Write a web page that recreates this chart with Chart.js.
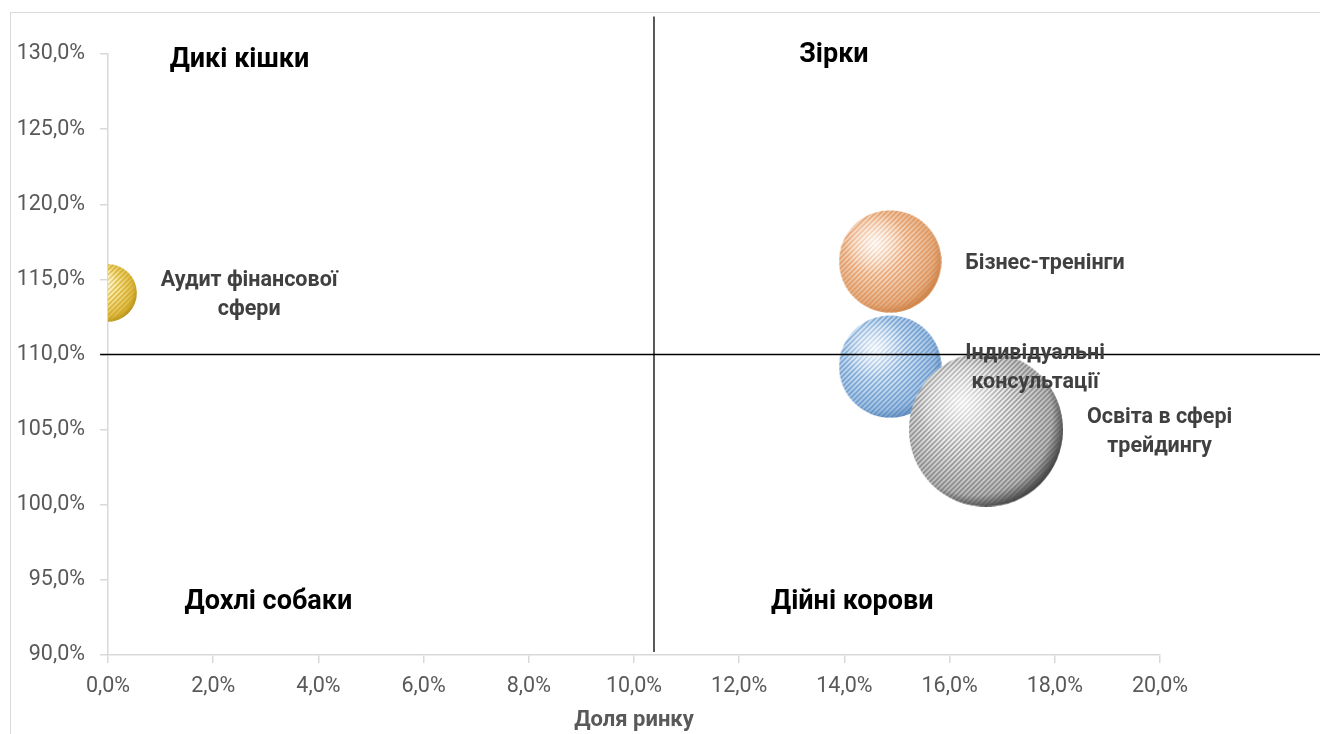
<!DOCTYPE html>
<html>
<head>
<meta charset="utf-8">
<script src="https://cdn.jsdelivr.net/npm/chart.js@4.4.0/dist/chart.umd.min.js"></script>
<style>
  html, body { margin: 0; padding: 0; background: #fff; overflow: hidden; }
  #frame { position: absolute; left: 10px; top: 12px; width: 1330px; height: 740px; border: 1px solid #d9d9d9; }
  #wrap { position: absolute; left: 0; top: 0; width: 1320px; height: 734px; }
</style>
</head>
<body>
<div id="frame"></div>
<div id="wrap"><canvas id="bcgChart" width="1320" height="734"></canvas></div>
<script>
// products (bubbles)
const products = ['Аудит фінансової сфери', 'Бізнес-тренінги', 'Індивідуальні консультації', 'Освіта в сфері трейдингу'];
const labelLines = [['Аудит фінансової', 'сфери'], ['Бізнес-тренінги'], ['Індивідуальні', 'консультації'], ['Освіта в сфері', 'трейдингу']];
const marketShare = [0.0, 14.87, 14.87, 16.69];      // % , x
const marketGrowth = [114.1, 116.2, 109.2, 105.0];    // % , y
const bubbleSize = [14, 44, 44, 100];                 // relative volume

// quadrant captions
const quadrantNames = ['Дикі кішки', 'Зірки', 'Дохлі собаки', 'Дійні корови'];
const quadrantShare = [2.5, 13.8, 3.05, 14.15];
const quadrantGrowth = [129.6, 129.9, 93.5, 93.5];

// dividing lines of the matrix
const dividerShare = 10.38;
const dividerGrowth = 110;
const verticalLine = [{x: dividerShare, y: 90.2}, {x: dividerShare, y: 132.5}];
const horizontalLine = [{x: -0.15, y: dividerGrowth}, {x: 23.1, y: dividerGrowth}];

const maxRadius = 77;
const radii = bubbleSize.map(s => maxRadius * Math.sqrt(s / Math.max(...bubbleSize)));

const sphereColors = [
  {light: '#fffdea', base: '#f7e89e', dark: '#dcbc48', rim: '#a8850e', stripe: 'rgba(210,160,20,0.7)'},
  {light: '#fffaf5', base: '#f6dcc6', dark: '#e2b38c', rim: '#c27a40', stripe: 'rgba(225,125,55,0.7)'},
  {light: '#f6fbff', base: '#d6e7f5', dark: '#a6c4e2', rim: '#6088b4', stripe: 'rgba(60,120,190,0.65)'},
  {light: '#ffffff', base: '#efefef', dark: '#bdbdbd', rim: '#222222', stripe: 'rgba(80,80,80,0.6)'}
];

function makeSphere(r, c) {
  const d = Math.ceil(r * 2);
  const cv = document.createElement('canvas');
  cv.width = d; cv.height = d;
  const g = cv.getContext('2d');
  const m = d / 2;
  g.beginPath(); g.arc(m, m, r, 0, Math.PI * 2); g.clip();
  const hx = m - r * 0.3, hy = m - r * 0.35;
  let grad = g.createRadialGradient(hx, hy, 0, m - r * 0.12, m - r * 0.12, r * 1.2);
  grad.addColorStop(0, c.light);
  grad.addColorStop(0.45, c.base);
  grad.addColorStop(0.84, c.dark);
  grad.addColorStop(1, c.rim);
  g.fillStyle = grad;
  g.fillRect(0, 0, d, d);
  g.strokeStyle = c.stripe;
  g.lineWidth = 1.5;
  for (let k = -d; k < 2 * d; k += 5) {
    g.beginPath(); g.moveTo(k, d); g.lineTo(k + d, 0); g.stroke();
  }
  grad = g.createRadialGradient(hx, hy, 0, hx, hy, r * 0.6);
  grad.addColorStop(0, 'rgba(255,255,255,0.75)');
  grad.addColorStop(1, 'rgba(255,255,255,0)');
  g.fillStyle = grad;
  g.fillRect(0, 0, d, d);
  return cv;
}

const spheres = radii.map((r, i) => makeSphere(r, sphereColors[i]));
const bubbles = products.map((p, i) => ({x: marketShare[i], y: marketGrowth[i], r: radii[i]}));

const fmt = v => v.toFixed(1).replace('.', ',') + '%';

const labelPlugin = {
  id: 'bcgLabels',
  afterDatasetsDraw(chart) {
    const g = chart.ctx;
    const meta = chart.getDatasetMeta(2);
    const xs = chart.scales.x, ys = chart.scales.y;
    g.save();
    g.textAlign = 'center';
    g.textBaseline = 'middle';
    g.font = 'bold 21.5px Roboto';
    g.fillStyle = '#404040';
    meta.data.forEach((pt, i) => {
      const lines = labelLines[i];
      const w = Math.max(...lines.map(t => g.measureText(t).width));
      const left = pt.x + radii[i] + 24;
      lines.forEach((t, k) => {
        g.fillText(t, left + w / 2, pt.y + 2 + (k - (lines.length - 1) / 2) * 29);
      });
    });
    g.font = 'bold 27px Roboto';
    g.fillStyle = '#000';
    quadrantNames.forEach((t, i) => {
      g.fillText(t, xs.getPixelForValue(quadrantShare[i]), ys.getPixelForValue(quadrantGrowth[i]));
    });
    g.restore();
  }
};

const axisGrid = {drawOnChartArea: false, color: '#d9d9d9', lineWidth: 1.5, tickLength: 8};
const axisBorder = {color: '#d9d9d9', width: 1.5};

new Chart(document.getElementById('bcgChart'), {
  type: 'bubble',
  data: {
    datasets: [
      {type: 'line', data: verticalLine, borderColor: '#000', borderWidth: 1.3, pointRadius: 0, clip: false, order: 0},
      {type: 'line', data: horizontalLine, borderColor: '#000', borderWidth: 1.3, pointRadius: 0, clip: false, order: 0},
      {type: 'bubble', data: bubbles, pointStyle: spheres, borderWidth: 0, clip: 0, order: 1}
    ]
  },
  options: {
    responsive: false,
    animation: false,
    layout: {autoPadding: false, padding: {top: 54, right: 160, left: 0, bottom: 0}},
    plugins: {legend: {display: false}, tooltip: {enabled: false}},
    scales: {
      x: {
        type: 'linear', min: 0, max: 20,
        afterFit: s => { s.height = 79; },
        ticks: {stepSize: 2, callback: fmt, color: '#595959', font: {family: 'Roboto', size: 21.5}, padding: 11, maxRotation: 0},
        grid: axisGrid, border: axisBorder,
        title: {display: true, text: 'Доля ринку', color: '#595959', font: {family: 'Roboto', size: 22, weight: 'bold'}, padding: {top: 2, bottom: 0}}
      },
      y: {
        type: 'linear', min: 90, max: 130,
        afterFit: s => { s.width = 108; },
        ticks: {stepSize: 5, callback: fmt, color: '#595959', font: {family: 'Roboto', size: 21.5}, padding: 15},
        grid: axisGrid, border: axisBorder
      }
    }
  },
  plugins: [labelPlugin]
});
</script>
</body>
</html>
